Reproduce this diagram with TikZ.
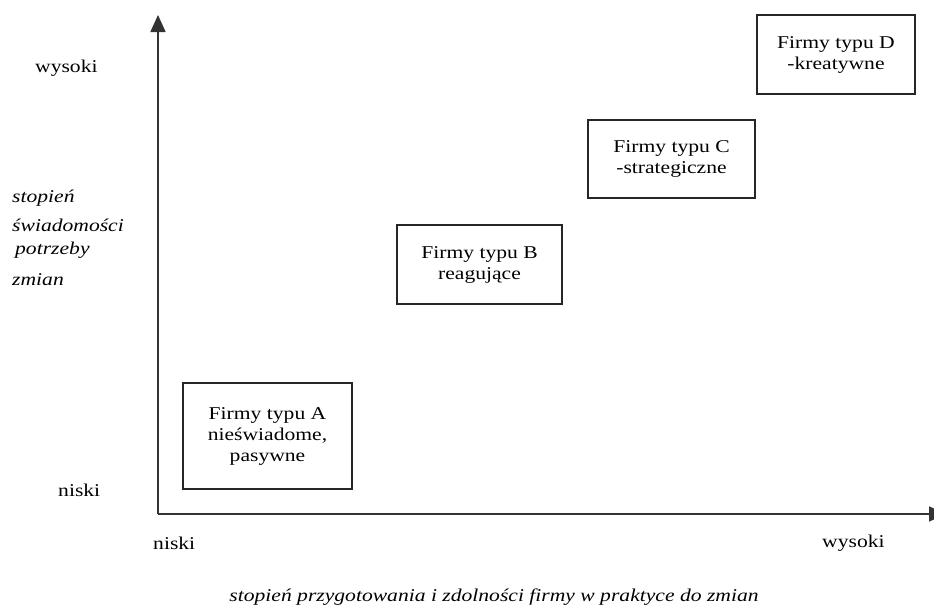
\documentclass[tikz,border=0pt]{standalone}
\usepackage{fontspec}
\setmainfont{Liberation Serif}[FakeStretch=1.2]
\usetikzlibrary{arrows.meta}
\begin{document}
\begin{tikzpicture}[x=1pt,y=-1pt,
  font=\fontsize{18}{21}\selectfont,
  box/.style={draw=black!85, line width=1.2pt, rectangle, inner sep=0pt, align=center},
  axis/.style={draw=black!80, line width=1.6pt},
  lbl/.style={inner sep=0pt, anchor=west},
  ilbl/.style={inner sep=0pt, anchor=west, font=\fontsize{18}{21}\selectfont\itshape}]
\useasboundingbox (0,0) rectangle (934,608);
\coordinate (O) at (158,514);
\coordinate (Ytop) at (158,15);
\coordinate (Xend) at (946,514);
\draw[axis,-{Triangle[length=17pt,width=15pt]}] (O) -- (Ytop);
\draw[axis,-{Triangle[length=17pt,width=15pt]}] (O) -- (Xend);
\node[box, minimum width=169pt, minimum height=106pt] (A) at (267.5,436) {Firmy typu A\\nieświadome,\\pasywne};
\node[box, minimum width=165pt, minimum height=79pt] (B) at (479.5,264.5) {Firmy typu B\\reagujące};
\node[box, minimum width=167pt, minimum height=78pt] (C) at (671.5,159) {Firmy typu C\\-strategiczne};
\node[box, minimum width=158pt, minimum height=79pt] (D) at (836,54.5) {Firmy typu D\\-kreatywne};
\node[lbl] (wysL) at (35,68) {wysoki};
\node[lbl] (nisL) at (58,490) {niski};
\node[ilbl] (y1) at (12,198) {stopień};
\node[ilbl] (y2) at (12,225) {świadomości};
\node[ilbl] (y3) at (15,250) {potrzeby};
\node[ilbl] (y4) at (12,280) {zmian};
\node[lbl] (nisB) at (153,543) {niski};
\node[lbl] (wysB) at (822,543) {wysoki};
\node[inner sep=0pt, font=\fontsize{18}{21}\selectfont\itshape] (cap) at (494,597) {stopień przygotowania i zdolności firmy w praktyce do zmian};
\end{tikzpicture}
\end{document}
